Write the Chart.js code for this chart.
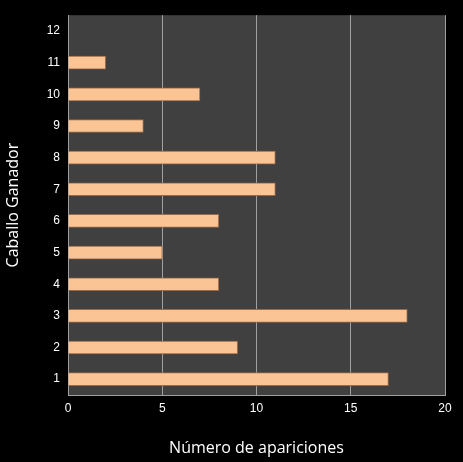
<!DOCTYPE html>
<html>
<head>
<meta charset="utf-8">
<script src="https://cdn.jsdelivr.net/npm/chart.js@4"></script>
<style>
  html, body { margin: 0; padding: 0; background: #000; }
</style>
</head>
<body>
<canvas id="chart" width="463" height="462"></canvas>
<script>
const caballos = ['1', '2', '3', '4', '5', '6', '7', '8', '9', '10', '11', '12'];
const apariciones = [17, 9, 18, 8, 5, 8, 11, 11, 4, 7, 2, 0];

// plot area background
const plotBg = {
  id: 'plotBg',
  beforeDraw(chart) {
    const { ctx, chartArea: a } = chart;
    ctx.save();
    ctx.fillStyle = '#404040';
    ctx.fillRect(a.left, a.top, a.right - a.left, a.bottom - a.top);
    ctx.restore();
  },
};

function barFill(context) {
  const el = context.element;
  if (!el || el.y === undefined) return '#fbc494';
  const h = el.height || 13;
  const g = context.chart.ctx.createLinearGradient(0, el.y - h / 2, 0, el.y + h / 2);
  g.addColorStop(0, '#f2b88c');
  g.addColorStop(0.3, '#ffe4c8');
  g.addColorStop(0.75, '#fbc494');
  g.addColorStop(1, '#8a5a3a');
  return g;
}

new Chart(document.getElementById('chart').getContext('2d'), {
  type: 'bar',
  data: {
    labels: caballos,
    datasets: [{
      data: apariciones,
      backgroundColor: barFill,
      borderColor: '#9a6a48',
      borderWidth: 1,
      barThickness: 13,
    }],
  },
  options: {
    indexAxis: 'y',
    responsive: false,
    animation: false,
    layout: { padding: { top: 8, right: 18, left: 0, bottom: 0 } },
    plugins: { legend: { display: false }, tooltip: { enabled: false } },
    scales: {
      x: {
        min: 0,
        max: 20,
        ticks: { stepSize: 5, color: '#fff', font: { family: 'Liberation Sans', size: 12 }, padding: 6 },
        grid: { color: '#a0a0a0', drawTicks: false },
        border: { color: '#a0a0a0' },
        title: { display: true, text: 'Número de apariciones', color: '#fff', font: { family: 'Open Sans', size: 16 } },
        afterFit(axis) { axis.height = 67; },
      },
      y: {
        reverse: true,
        ticks: { color: '#fff', font: { family: 'Liberation Sans', size: 12 }, padding: 8 },
        grid: { display: false, drawTicks: false },
        border: { color: '#a0a0a0' },
        title: { display: true, text: 'Caballo Ganador', color: '#fff', font: { family: 'Open Sans', size: 16 } },
        afterFit(axis) { axis.width = 68; },
      },
    },
  },
  plugins: [plotBg],
});
</script>
</body>
</html>
